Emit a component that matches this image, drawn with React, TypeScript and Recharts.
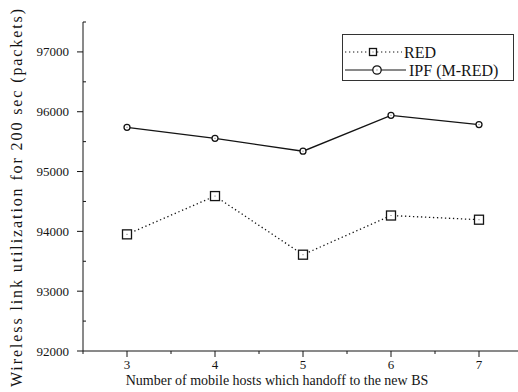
import { LineChart, Line, XAxis, YAxis, Legend, Label } from "recharts";

const FONT = "'Liberation Serif', 'Times New Roman', Times, serif";
const INK = "#141414";

const hosts = [3, 4, 5, 6, 7];
const redValues = [93950, 94590, 93610, 94265, 94195];
const ipfValues = [95740, 95555, 95340, 95940, 95785];
const xTicks = [2.5, 3, 3.5, 4, 4.5, 5, 5.5, 6, 6.5, 7, 7.5];
const yTicks = [
  92000, 92500, 93000, 93500, 94000, 94500, 95000, 95500, 96000, 96500, 97000, 97500,
];

const data = hosts.map((h, i) => ({ hosts: h, red: redValues[i], ipf: ipfValues[i] }));

const isMajorX = (v: number) => Number.isInteger(v) && v >= 3 && v <= 7;
const isMajorY = (v: number) => v % 1000 === 0;

function BottomTick({ x, y, payload }: any) {
  const major = isMajorX(payload.value);
  return (
    <g>
      <line x1={x} x2={x} y1={y} y2={y + (major ? 6 : 3)} stroke={INK} />
      {major && (
        <text x={x} y={y + 18} textAnchor="middle" fontSize={13} fontFamily={FONT} fill={INK}>
          {payload.value}
        </text>
      )}
    </g>
  );
}

function TopTick({ x, y, payload }: any) {
  const major = isMajorX(payload.value);
  return <line x1={x} x2={x} y1={y} y2={y + (major ? 6 : 3)} stroke={INK} />;
}

function LeftTick({ x, y, payload }: any) {
  const major = isMajorY(payload.value);
  if (!major) return <line x1={x} x2={x + 3} y1={y} y2={y} stroke={INK} />;
  return (
    <g>
      <line x1={x - 6} x2={x} y1={y} y2={y} stroke={INK} />
      <text x={x - 14} y={y} dy="0.35em" textAnchor="end" fontSize={13} fontFamily={FONT} fill={INK}>
        {payload.value}
      </text>
    </g>
  );
}

function RightTick({ x, y, payload }: any) {
  const major = isMajorY(payload.value);
  return <line x1={x - (major ? 6 : 3)} x2={x} y1={y} y2={y} stroke={INK} />;
}

function SquareDot({ cx, cy, size = 9 }: any) {
  if (cx == null || cy == null) return null;
  const h = size / 2;
  return (
    <g>
      <rect x={cx - h} y={cy - h} width={size} height={size} fill="#fff" stroke={INK} strokeWidth={1.3} />
      <rect x={cx - 0.5} y={cy - 0.5} width={1} height={1} fill="#666" />
    </g>
  );
}

function CircleDot({ cx, cy, r = 5.2 }: any) {
  if (cx == null || cy == null) return null;
  return (
    <g>
      <circle cx={cx} cy={cy} r={r} fill="#fff" stroke={INK} strokeWidth={1.3} />
      <rect x={cx - 0.5} y={cy - 0.5} width={1} height={1} fill="#666" />
    </g>
  );
}

function LegendBox() {
  return (
    <svg width={173} height={48} style={{ display: "block" }}>
      <rect x={0.5} y={0.5} width={171} height={46} fill="#fff" stroke="#333" />
      <line x1={3} x2={60} y1={18} y2={18} stroke={INK} strokeDasharray="1.3 2.7" />
      <SquareDot cx={31} cy={18} size={7} />
      <text x={62} y={18} dy="0.35em" fontSize={16} fontFamily={FONT} fill={INK}>
        RED
      </text>
      <line x1={3} x2={64} y1={36} y2={36} stroke={INK} />
      <CircleDot cx={35} cy={36} r={4.2} />
      <text x={67} y={36} dy="0.35em" fontSize={16} fontFamily={FONT} fill={INK}>
        IPF (M-RED)
      </text>
    </svg>
  );
}

export default function App() {
  return (
    <div
      style={{
        position: "absolute",
        left: 0,
        top: 0,
        width: 518,
        height: 392,
        overflow: "hidden",
        background: "#fff",
      }}
    >
      <LineChart
        width={530}
        height={392}
        data={data}
        margin={{ top: 22, right: 7, bottom: 0, left: 0 }}
        style={{ fontFamily: FONT }}
      >
        <XAxis
          dataKey="hosts"
          type="number"
          domain={[2.5, 7.5]}
          allowDataOverflow
          ticks={xTicks}
          interval={0}
          height={41}
          tickSize={0}
          tickMargin={0}
          tickLine={false}
          axisLine={{ stroke: INK }}
          tick={<BottomTick />}
        >
          <Label
            content={() => (
              <text x={277} y={385} textAnchor="middle" fontSize={14} fontFamily={FONT} fill={INK}>
                Number of mobile hosts which handoff to the new BS
              </text>
            )}
          />
        </XAxis>
        <XAxis
          xAxisId="top"
          orientation="top"
          type="number"
          domain={[2.5, 7.5]}
          allowDataOverflow
          ticks={xTicks}
          interval={0}
          height={0}
          tickSize={0}
          tickMargin={0}
          tickLine={false}
          axisLine={{ stroke: INK }}
          tick={<TopTick />}
        />
        <YAxis
          type="number"
          domain={[92000, 97500]}
          allowDataOverflow
          ticks={yTicks}
          interval={0}
          width={83}
          tickSize={0}
          tickMargin={0}
          tickLine={false}
          axisLine={{ stroke: INK }}
          tick={<LeftTick />}
        >
          <Label
            content={() => (
              <text
                transform="translate(22,198) rotate(-90)"
                textAnchor="middle"
                fontSize={16}
                fontFamily={FONT}
                fill={INK}
                textLength={378}
                lengthAdjust="spacing"
              >
                Wireless link utilization for 200 sec (packets)
              </text>
            )}
          />
        </YAxis>
        <YAxis
          yAxisId="right"
          orientation="right"
          type="number"
          domain={[92000, 97500]}
          allowDataOverflow
          ticks={yTicks}
          interval={0}
          width={0}
          tickSize={0}
          tickMargin={0}
          tickLine={false}
          axisLine={{ stroke: INK }}
          tick={<RightTick />}
        />
        <Legend
          layout="vertical"
          align="center"
          verticalAlign="middle"
          content={() => <LegendBox />}
          wrapperStyle={{ left: 342, top: 34, width: 173, height: 48 }}
        />
        <Line
          dataKey="red"
          name="RED"
          stroke={INK}
          strokeWidth={1.3}
          strokeDasharray="1.3 2.7"
          dot={<SquareDot />}
          activeDot={false}
          isAnimationActive={false}
        />
        <Line
          dataKey="ipf"
          name="IPF (M-RED)"
          stroke={INK}
          strokeWidth={1.3}
          dot={<CircleDot />}
          activeDot={false}
          isAnimationActive={false}
        />
      </LineChart>
    </div>
  );
}
